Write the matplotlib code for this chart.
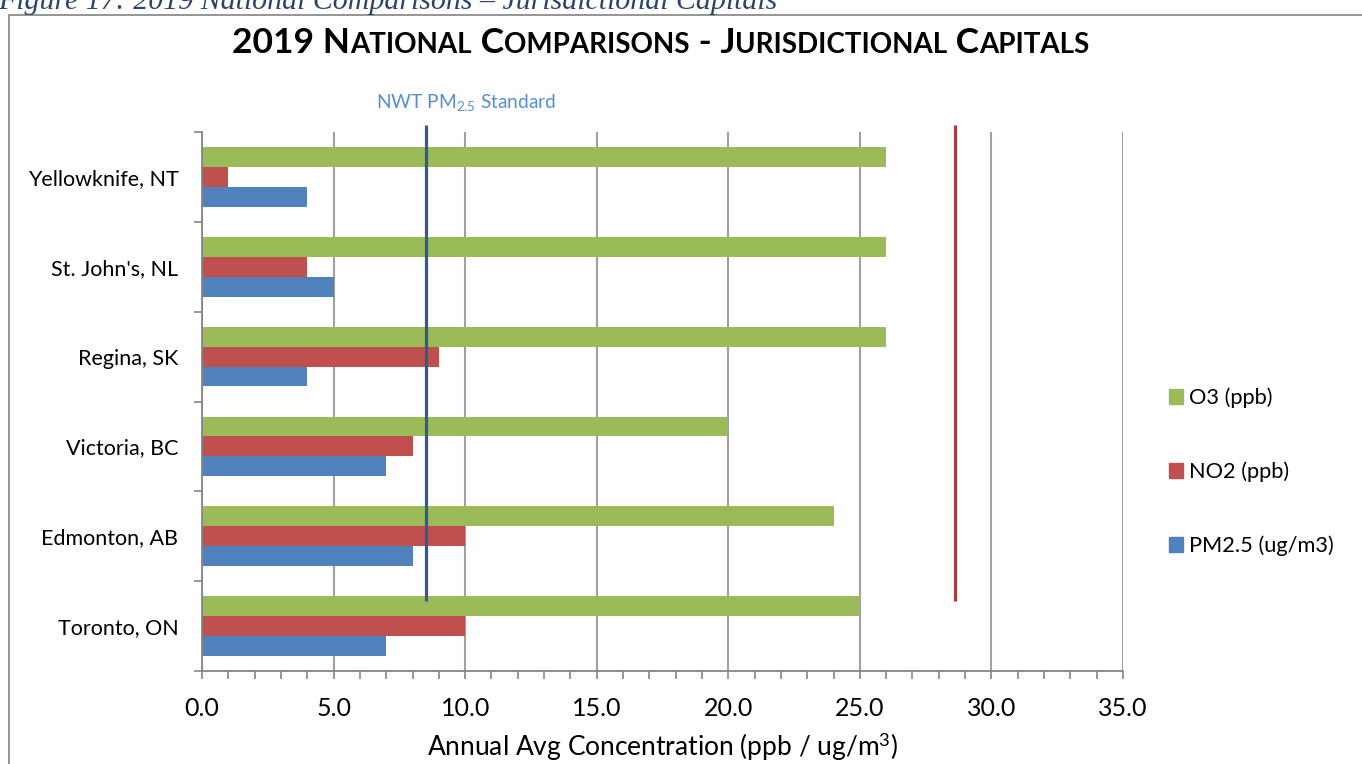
import matplotlib
matplotlib.use('Agg')
import matplotlib.pyplot as plt
from matplotlib.patches import Rectangle, Patch
from matplotlib.ticker import MultipleLocator, FormatStrFormatter
import numpy as np

plt.rcParams['font.family'] = ['Lato', 'DejaVu Sans']
plt.rcParams['mathtext.fontset'] = 'custom'
plt.rcParams['mathtext.rm'] = 'Lato'
plt.rcParams['mathtext.it'] = 'Lato:italic'

# data (bottom to top as drawn)
cities = ["Toronto, ON", "Edmonton, AB", "Victoria, BC", "Regina, SK", "St. John's, NL", "Yellowknife, NT"]
o3 = [25, 24, 20, 26, 26, 26]
no2 = [10, 10, 8, 9, 4, 1]
pm25 = [7, 8, 7, 4, 5, 4]
series_names = ["O3 (ppb)", "NO2 (ppb)", "PM2.5 (ug/m3)"]
nwt_pm25_std = 8.5
red_std = 28.6

GREEN = '#9BBB59'
RED = '#C0504D'
BLUE = '#4F81BD'

W, H = 1362, 764
fig = plt.figure(figsize=(W / 100, H / 100), dpi=100)

# outer chart frame (cut off at right / bottom)
fig.patches.append(Rectangle((9 / W, -0.1), 1.2, (H - 14.5) / H + 0.1, transform=fig.transFigure,
                             fill=False, edgecolor='#8c8c8c', lw=1.3))

# caption above the frame, partly cut off
fig.text(-0.001, (H - 9) / H, "Figure 17: 2019 National Comparisons \u2013 Jurisdictional Capitals",
         family='Liberation Serif', style='italic', fontsize=21.5, color='#2b4468', va='baseline', ha='left')

ax = fig.add_axes([202 / W, (H - 671) / H, (1123 - 202) / W, (671 - 132) / H])

y = np.arange(len(cities))
h = 0.222
ax.barh(y + h, o3, height=h, color=GREEN, zorder=2)
ax.barh(y, no2, height=h, color=RED, zorder=2)
ax.barh(y - h, pm25, height=h, color=BLUE, zorder=2)

ax.vlines(nwt_pm25_std, 0.28, 5.58, color='#335a8c', lw=2.3, zorder=4, clip_on=False)
ax.vlines(red_std, 0.28, 5.58, color='#a23d3c', lw=2.3, zorder=4, clip_on=False)
ax.text(nwt_pm25_std + 1.53, 5.83, "NWT PM$_{2.5}$ Standard", color='#558ED5', fontsize=13.8,
        ha='center', va='center')

ax.set_xlim(0, 35)
ax.set_ylim(-0.5, 5.5)
ax.xaxis.set_major_locator(MultipleLocator(5))
ax.xaxis.set_minor_locator(MultipleLocator(1))
ax.xaxis.set_major_formatter(FormatStrFormatter('%.1f'))
ax.xaxis.grid(True, color='#a0a0a0', lw=1.5, zorder=0)
ax.set_axisbelow(True)

ax.set_yticks(y)
ax.set_yticklabels(cities)
ax.set_yticks(np.arange(-0.5, 6.0, 1.0), minor=True)

ax.tick_params(axis='x', which='both', direction='out', length=5.5, width=1.2, color='#868686',
               labelsize=18, pad=13)
ax.tick_params(axis='y', which='major', length=0, labelsize=15.5, pad=17)
ax.tick_params(axis='y', which='minor', direction='out', length=5.5, width=1.2, color='#868686')

for s in ['top', 'right']:
    ax.spines[s].set_visible(False)
for s in ['left', 'bottom']:
    ax.spines[s].set_color('#868686')
    ax.spines[s].set_linewidth(1.3)

ax.set_xlabel("Annual Avg Concentration (ppb / ug/m$^{3}$)", fontsize=19, labelpad=8)

handles = [Patch(color=GREEN), Patch(color=RED), Patch(color=BLUE)]
fig.legend(handles, series_names, loc='center left', bbox_to_anchor=(1160 / W, (H - 472) / H),
           frameon=False, fontsize=15.7, handlelength=0.65, handleheight=0.65, handletextpad=0.3,
           labelspacing=2.45, borderaxespad=0)

# title in small caps
title = "2019 National Comparisons - Jurisdictional Capitals"
big, small = 25.5, 20
runs = []
for ch in title:
    if ch.islower():
        sz, c = small, ch.upper()
    else:
        sz, c = big, ch
    if runs and runs[-1][1] == sz:
        runs[-1][0] += c
    else:
        runs.append([c, sz])

renderer = fig.canvas.get_renderer()


def width_of(s, sz):
    t1 = fig.text(0, 0, "|" + s + "|", fontsize=sz, weight='bold')
    t2 = fig.text(0, 0, "||", fontsize=sz, weight='bold')
    w = t1.get_window_extent(renderer).width - t2.get_window_extent(renderer).width
    t1.remove()
    t2.remove()
    return w


widths = [width_of(s, sz) for s, sz in runs]
x0 = 661 - sum(widths) / 2
for (s, sz), w in zip(runs, widths):
    fig.text(x0 / W, (H - 53) / H, s, fontsize=sz, weight='bold', ha='left', va='baseline')
    x0 += w

fig.savefig('out.png', dpi=100)
